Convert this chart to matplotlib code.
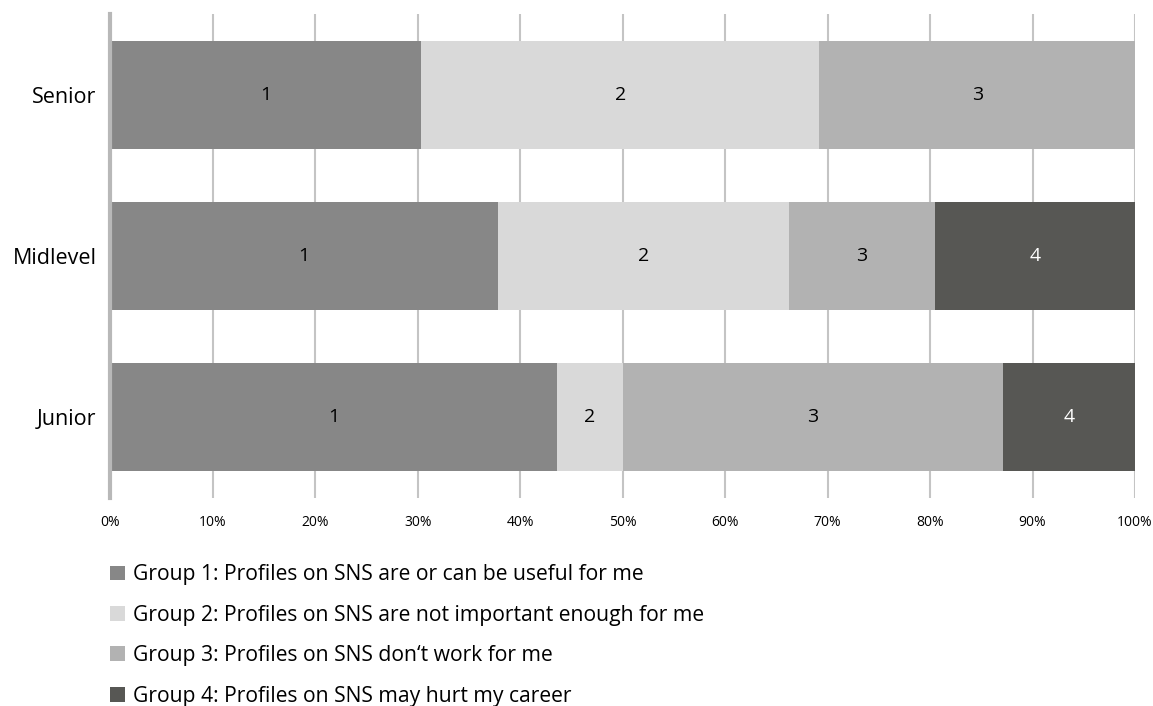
# Libraries import
import numpy as np
import matplotlib.pyplot as plt
from matplotlib.patches import Patch

plt.rcParams['font.family'] = ['Open Sans', 'DejaVu Sans']

# Data
categories = ['Junior', 'Midlevel', 'Senior']
group1 = [43.6, 37.8, 30.3]
group2 = [6.4, 28.4, 38.9]
group3 = [37.1, 14.3, 30.8]
group4 = [12.9, 19.5, 0.0]
series = [group1, group2, group3, group4]
group_names = ['Group 1: Profiles on SNS are or can be useful for me',
               'Group 2: Profiles on SNS are not important enough for me',
               'Group 3: Profiles on SNS don\u2018t work for me',
               'Group 4: Profiles on SNS may hurt my career']
colors = ['#878787', '#d9d9d9', '#b2b2b2', '#575754']
text_colors = ['black', 'black', 'black', 'white']
ticks = np.arange(0, 101, 10)

# Figure
fig = plt.figure(figsize=(11.53, 7.06), dpi=100)
ax = fig.add_axes([0.0958, 0.2946, 0.8886, 0.6856])

y = np.arange(len(categories))
left = np.zeros(len(categories))
for i, values in enumerate(series):
    bars = ax.barh(y, values, left=left, height=0.67, color=colors[i], zorder=2)
    labels = [str(i + 1) if v > 0 else '' for v in values]
    ax.bar_label(bars, labels=labels, label_type='center', color=text_colors[i], fontsize=14)
    left += np.array(values)

# Axes styling
ax.set_xlim(0, 100)
ax.set_ylim(-0.5, 2.5)
ax.set_xticks(ticks)
ax.set_xticklabels([f'{t}%' for t in ticks], fontsize=10)
ax.set_yticks(y)
ax.set_yticklabels(categories, fontsize=15.5)
ax.tick_params(axis='x', length=0, pad=12)
ax.tick_params(axis='y', length=0, pad=10)
ax.grid(axis='x', color='#c4c4c4', linewidth=1.5, zorder=0)
ax.set_axisbelow(True)
for side in ['top', 'right', 'bottom']:
    ax.spines[side].set_visible(False)
ax.spines['left'].set_color('#b8b8b8')
ax.spines['left'].set_linewidth(3)

# Legend
handles = [Patch(facecolor=c, edgecolor='none') for c in colors]
fig.legend(handles, group_names, loc='upper left', bbox_to_anchor=(0.088, 0.2125),
           frameon=False, fontsize=15.2, handlelength=0.7, handleheight=0.7,
           handletextpad=0.4, labelspacing=0.92, borderaxespad=0)

plt.savefig('out.png', dpi=100)
